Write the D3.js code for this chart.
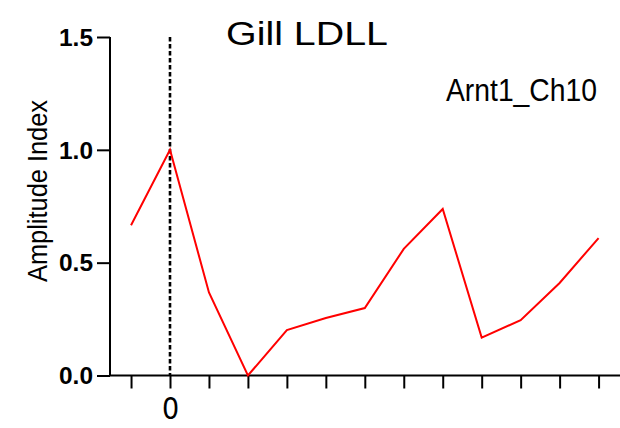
<!DOCTYPE html>
<html>
<head>
<meta charset="utf-8">
<script src="https://cdn.jsdelivr.net/npm/d3@7"></script>
<style>
  html, body { margin: 0; padding: 0; background: #fff; }
  svg { display: block; }
</style>
</head>
<body>
<svg id="chart" width="620" height="428"></svg>
<script>
// Time points (x positions) and amplitude index values
const timePoints = [-1, 0, 1, 2, 3, 4, 5, 6, 7, 8, 9, 10, 11];
const amplitude = [0.666, 1.0, 0.368, 0.0, 0.201, 0.255, 0.299, 0.561, 0.738, 0.168, 0.245, 0.41, 0.609];
const yTickValues = [0, 0.5, 1.0, 1.5];
const xTickLabels = { 0: "0" };
const titleText = "Gill LDLL";
const seriesLabel = "Arnt1_Ch10";
const yAxisTitle = "Amplitude Index";
const markerTime = 0;

const svg = d3.select("#chart");

const x = d3.scaleLinear().domain([-1.54, 11.55]).range([110, 620]);
const y = d3.scaleLinear().domain([0, 1.5]).range([375.5, 37]);

// Y axis
const yAxis = d3.axisLeft(y)
  .tickValues(yTickValues)
  .tickFormat(d3.format(".1f"))
  .tickSize(13)
  .tickPadding(4);

const gy = svg.append("g")
  .attr("transform", `translate(${x.range()[0]},0)`)
  .call(yAxis);
gy.select(".domain").attr("stroke", "#000").attr("stroke-width", 2)
  .attr("d", `M0,${y(0)}V${y(1.5)}`);
gy.selectAll(".tick line").attr("stroke", "#000").attr("stroke-width", 2);
gy.selectAll(".tick text")
  .attr("fill", "#000")
  .attr("textLength", 34)
  .attr("lengthAdjust", "spacingAndGlyphs")
  .style("font-family", "'Liberation Sans', Arial, sans-serif")
  .style("font-weight", "bold")
  .style("font-size", "23px")
  .attr("dy", "0.36em");

// X axis
const xAxis = d3.axisBottom(x)
  .tickValues(timePoints)
  .tickFormat(d => xTickLabels[d] || "")
  .tickSize(13)
  .tickPadding(9);

const gx = svg.append("g")
  .attr("transform", `translate(0,${y(0)})`)
  .call(xAxis);
gx.select(".domain").attr("stroke", "#000").attr("stroke-width", 2)
  .attr("d", `M${x.range()[0]},0H${x.range()[1]}`);
gx.selectAll(".tick line").attr("stroke", "#000").attr("stroke-width", 2);
gx.selectAll(".tick text")
  .attr("fill", "#000")
  .style("font-family", "'Liberation Sans Narrow', 'DejaVu Sans Condensed', sans-serif")
  .style("font-size", "30px");

// Dashed marker at time zero
svg.append("line")
  .attr("x1", x(markerTime)).attr("x2", x(markerTime))
  .attr("y1", y(1.5)).attr("y2", y(0))
  .attr("stroke", "#000")
  .attr("stroke-width", 2.6)
  .attr("stroke-dasharray", "4.5,2.5");

// Amplitude line
const line = d3.line()
  .x((d, i) => x(timePoints[i]))
  .y(d => y(d));

svg.append("path")
  .datum(amplitude)
  .attr("d", line)
  .attr("fill", "none")
  .attr("stroke", "#ff0000")
  .attr("stroke-width", 2);

// Title
svg.append("text")
  .attr("x", 226).attr("y", 44.5)
  .attr("textLength", 162)
  .attr("lengthAdjust", "spacingAndGlyphs")
  .style("font-family", "'Liberation Sans', Arial, sans-serif")
  .style("font-size", "33px")
  .attr("fill", "#000")
  .text(titleText);

// Series label
svg.append("text")
  .attr("x", 446).attr("y", 100.5)
  .attr("textLength", 151)
  .attr("lengthAdjust", "spacingAndGlyphs")
  .style("font-family", "'Liberation Sans', Arial, sans-serif")
  .style("font-size", "31px")
  .attr("fill", "#000")
  .text(seriesLabel);

// Y axis title
svg.append("text")
  .attr("transform", "translate(47,191) rotate(-90)")
  .attr("text-anchor", "middle")
  .attr("textLength", 182)
  .attr("lengthAdjust", "spacingAndGlyphs")
  .style("font-family", "'Liberation Sans', Arial, sans-serif")
  .style("font-size", "27px")
  .attr("fill", "#000")
  .text(yAxisTitle);
</script>
</body>
</html>
